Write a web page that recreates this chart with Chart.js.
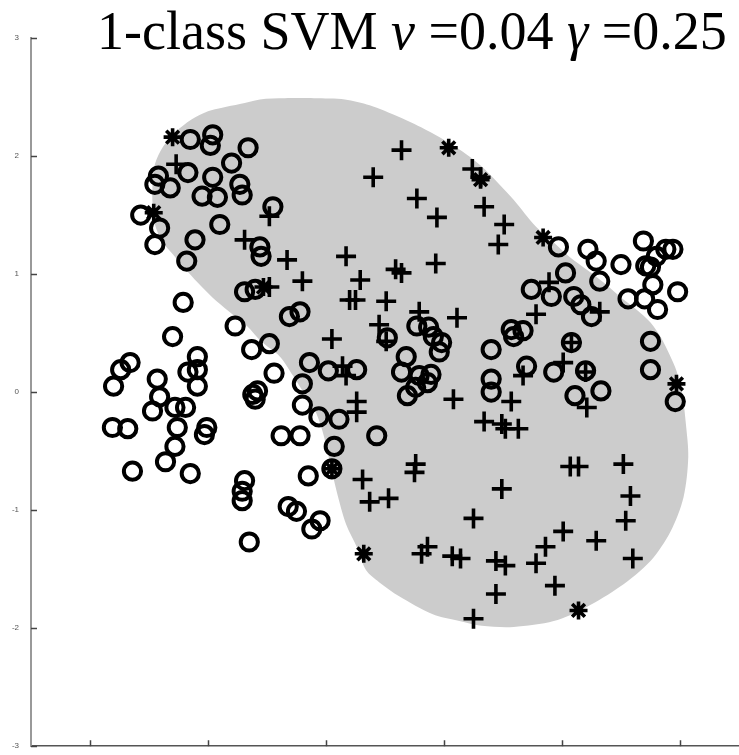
<!DOCTYPE html>
<html>
<head>
<meta charset="utf-8">
<title>1-class SVM</title>
<script src="https://cdn.jsdelivr.net/npm/chart.js@4/dist/chart.umd.min.js"></script>
<style>
  html, body { margin: 0; padding: 0; background: #fff; }
  #wrap { position: relative; width: 739px; height: 755px; overflow: hidden; }
  #plot { position: absolute; left: 0; top: 0; }
  #heading {
    position: absolute; left: 97px; top: 4px;
    font-family: "Liberation Serif", "DejaVu Serif", serif;
    font-size: 54px; color: #000; white-space: nowrap; line-height: 1;
  }
  #heading i { font-style: italic; }
</style>
</head>
<body>
<div id="wrap">
  <canvas id="plot" width="739" height="755"></canvas>
  <div id="heading">1-class SVM <i>ν</i> =0.04 <i>γ</i> =0.25</div>
</div>
<script>
// axis ranges and tick values
const xRange = [-2.5, 3.5];
const yRange = [-3, 3];
const xTicks = [-2, -1, 0, 1, 2, 3];
const yTicks = [-3, -2, -1, 0, 1, 2, 3];

// outliers (circles)
const circlePts = [
  [-1.15, 2.14], [-0.96, 2.18], [-0.98, 2.09], [-0.66, 2.07], [-0.80, 1.94],
  [-1.42, 1.83], [-1.45, 1.76], [-1.32, 1.73], [-1.17, 1.86], [-0.96, 1.82],
  [-1.05, 1.66], [-0.92, 1.65], [-0.73, 1.76], [-0.71, 1.67], [-0.45, 1.57],
  [-1.57, 1.50], [-1.41, 1.39], [-1.45, 1.25], [-0.90, 1.42], [-1.11, 1.29],
  [-1.18, 1.11], [-0.56, 1.23], [-0.55, 1.15], [-0.69, 0.85], [-0.60, 0.87],
  [-0.31, 0.64], [-0.22, 0.68], [-1.21, 0.76], [-0.77, 0.56], [-1.30, 0.47],
  [-0.63, 0.36], [-0.48, 0.41], [-1.09, 0.30], [-0.44, 0.16], [-1.74, 0.19],
  [-1.66, 0.25], [-1.43, 0.11], [-1.17, 0.17], [-1.09, 0.19], [-0.14, 0.25],
  [0.77, 0.56], [0.87, 0.55], [0.91, 0.47], [0.98, 0.42], [0.96, 0.34],
  [0.52, 0.46], [0.68, 0.30], [1.40, 0.36], [1.57, 0.53], [0.02, 0.18],
  [0.26, 0.19], [0.64, 0.17], [0.79, 0.14], [0.89, 0.15], [1.40, 0.11],
  [1.97, 1.23], [2.22, 1.21], [2.29, 1.11], [2.50, 1.08], [2.69, 1.28],
  [2.88, 1.21], [2.94, 1.21], [2.80, 1.15], [2.71, 1.07], [2.75, 1.06],
  [2.03, 1.01], [2.32, 0.94], [1.74, 0.87], [1.91, 0.81], [2.10, 0.81],
  [2.16, 0.74], [2.25, 0.64], [2.56, 0.79], [2.70, 0.79], [2.77, 0.91],
  [2.81, 0.70], [2.98, 0.85], [2.75, 0.43], [2.75, 0.19], [1.59, 0.47],
  [1.67, 0.52], [2.08, 0.42], [1.70, 0.22], [1.93, 0.17], [2.20, 0.18],
  [-1.80, 0.05], [-1.41, -0.04], [-1.47, -0.16], [-1.28, -0.13], [-1.19, -0.13],
  [-1.09, 0.05], [-1.81, -0.30], [-1.68, -0.31], [-1.26, -0.30], [-1.01, -0.30],
  [-1.03, -0.36], [-1.28, -0.46], [-1.36, -0.59], [-1.64, -0.67], [-1.15, -0.69],
  [-0.62, -0.02], [-0.58, 0.01], [-0.60, -0.06], [-0.20, 0.07], [-0.20, -0.11],
  [-0.38, -0.37], [-0.22, -0.37], [-0.15, -0.71], [-0.69, -0.75], [-0.71, -0.84],
  [-0.71, -0.92], [-0.32, -0.97], [-0.25, -1.01], [-0.12, -1.16], [-0.65, -1.27],
  [-0.06, -0.21], [0.11, -0.23], [0.07, -0.46], [0.05, -0.65], [-0.05, -1.09],
  [0.43, -0.37], [0.69, -0.03], [0.76, 0.04], [0.86, 0.08], [1.40, 0.00],
  [2.11, -0.03], [2.33, 0.01], [2.96, -0.08]
];

// training points inside the region (pluses)
const plusPts = [
  [-1.27, 1.93], [-0.48, 1.49], [-0.69, 1.29], [-0.33, 1.12], [-0.20, 0.94],
  [-0.48, 0.89], [0.64, 2.05], [0.40, 1.82], [0.77, 1.64], [0.94, 1.48],
  [1.24, 1.89], [1.31, 1.82], [1.34, 1.57], [1.51, 1.42], [1.46, 1.25],
  [0.93, 1.09], [0.17, 1.15], [0.29, 0.95], [0.59, 1.04], [0.64, 1.01],
  [0.20, 0.78], [0.25, 0.78], [0.51, 0.77], [0.45, 0.57], [0.79, 0.68],
  [1.11, 0.63], [0.05, 0.45], [0.14, 0.22], [0.51, 0.43], [1.89, 0.93],
  [2.32, 0.68], [1.78, 0.66], [2.01, 0.25], [1.67, 0.14], [2.08, 0.42],
  [2.20, 0.17], [0.26, -0.08], [0.26, -0.17], [1.08, -0.06], [1.34, -0.25],
  [1.49, -0.27], [1.52, -0.31], [0.76, -0.61], [0.75, -0.68], [0.31, -0.74],
  [0.37, -0.93], [0.53, -0.90], [1.49, -0.82], [1.25, -1.07], [0.86, -1.31],
  [0.81, -1.37], [1.07, -1.39], [1.14, -1.41], [1.44, -1.43], [1.52, -1.47],
  [1.44, -1.71], [1.25, -1.92], [0.17, 0.14], [1.57, -0.08], [1.63, -0.31],
  [2.07, -0.63], [2.14, -0.63], [2.52, -0.61], [2.58, -0.88], [2.54, -1.09],
  [2.01, -1.18], [2.29, -1.26], [1.86, -1.31], [1.78, -1.45], [2.60, -1.41],
  [2.21, -0.13], [1.94, -1.64]
];

// support vectors (asterisks)
const starPts = [
  [-1.30, 2.16], [-1.46, 1.52], [1.04, 2.07], [1.84, 1.31], [2.97, 0.07],
  [0.32, -1.37], [2.14, -1.85], [0.05, -0.65], [1.31, 1.80], [-0.53, 0.89]
];

// boundary of the estimated support region
const regionEdge = [
  [-0.88, 2.41], [-0.73, 2.44], [-0.56, 2.48], [-0.35, 2.49], [-0.10, 2.49],
  [0.16, 2.48], [0.37, 2.43], [0.62, 2.33], [0.87, 2.21], [1.11, 2.07],
  [1.31, 1.92], [1.46, 1.77], [1.59, 1.63], [1.78, 1.40], [1.94, 1.26],
  [2.07, 1.14], [2.22, 1.03], [2.35, 0.93], [2.49, 0.81], [2.63, 0.70],
  [2.75, 0.59], [2.84, 0.46], [2.91, 0.32], [2.97, 0.18], [3.02, -0.02],
  [3.05, -0.27], [3.07, -0.55], [3.03, -0.89], [2.92, -1.18], [2.75, -1.43],
  [2.49, -1.65], [2.21, -1.82], [1.93, -1.94], [1.59, -1.99], [1.32, -1.98],
  [1.13, -1.94], [0.90, -1.88], [0.62, -1.73], [0.45, -1.61], [0.34, -1.51],
  [0.26, -1.31], [0.17, -1.12], [0.09, -0.84], [0.03, -0.58], [-0.03, -0.33],
  [-0.10, -0.14], [-0.18, -0.02], [-0.28, 0.14], [-0.39, 0.30], [-0.55, 0.43],
  [-0.67, 0.56], [-0.83, 0.69], [-0.96, 0.80], [-1.09, 0.93], [-1.19, 1.04],
  [-1.30, 1.17], [-1.39, 1.28], [-1.45, 1.42], [-1.47, 1.59], [-1.47, 1.76],
  [-1.45, 1.93], [-1.38, 2.08], [-1.28, 2.20], [-1.14, 2.31], [-1.00, 2.38],
  [-0.88, 2.41]
];

const toXY = pts => pts.map(p => ({ x: p[0], y: p[1] }));

// short inward tick marks on the left and bottom axes
const inwardTicks = {
  id: 'inwardTicks',
  afterDraw(chart) {
    const { ctx, chartArea, scales } = chart;
    ctx.save();
    ctx.strokeStyle = '#444';
    ctx.lineWidth = 1.5;
    ctx.beginPath();
    xTicks.forEach(v => {
      const px = Math.round(scales.x.getPixelForValue(v)) + 0.5;
      ctx.moveTo(px, chartArea.bottom);
      ctx.lineTo(px, chartArea.bottom - 6);
    });
    yTicks.forEach(v => {
      const py = Math.round(scales.y.getPixelForValue(v)) + 0.5;
      ctx.moveTo(chartArea.left, py);
      ctx.lineTo(chartArea.left + 6, py);
    });
    ctx.stroke();
    ctx.restore();
  }
};

const markStyle = { borderColor: '#000', backgroundColor: 'rgba(0,0,0,0)', showLine: false };

new Chart(document.getElementById('plot'), {
  type: 'scatter',
  data: {
    datasets: [
      {
        type: 'line', data: toXY(regionEdge), fill: 'shape',
        backgroundColor: '#cccccc', borderWidth: 0, borderColor: '#cccccc',
        pointRadius: 0, tension: 0.3, order: 10
      },
      { ...markStyle, data: toXY(circlePts), pointStyle: 'circle', pointRadius: 8.6, pointBorderWidth: 4, order: 3 },
      { ...markStyle, data: toXY(plusPts), pointStyle: 'cross', pointRadius: 10, pointBorderWidth: 3.6, order: 2 },
      { ...markStyle, data: toXY(starPts), pointStyle: 'star', pointRadius: 9, pointBorderWidth: 3.6, order: 1 }
    ]
  },
  options: {
    responsive: false,
    animation: false,
    devicePixelRatio: 1,
    layout: { autoPadding: false, padding: { top: 38, right: 0, left: 0, bottom: 0 } },
    plugins: { legend: { display: false }, tooltip: { enabled: false } },
    scales: {
      x: {
        type: 'linear', min: xRange[0], max: xRange[1],
        afterFit: s => { s.height = 7; },
        afterBuildTicks: s => { s.ticks = xTicks.map(v => ({ value: v })); },
        grid: { display: false },
        border: { display: true, color: '#555', width: 1.5 },
        ticks: { font: { family: 'Liberation Sans', size: 7 }, color: '#555', padding: 1, maxRotation: 0 }
      },
      y: {
        type: 'linear', min: yRange[0], max: yRange[1],
        afterFit: s => { s.width = 31; },
        afterBuildTicks: s => { s.ticks = yTicks.map(v => ({ value: v })); },
        grid: { display: false },
        border: { display: true, color: '#999', width: 2 },
        ticks: { font: { family: 'Liberation Sans', size: 8 }, color: '#555', padding: 4 }
      }
    }
  },
  plugins: [inwardTicks]
});
</script>
</body>
</html>
